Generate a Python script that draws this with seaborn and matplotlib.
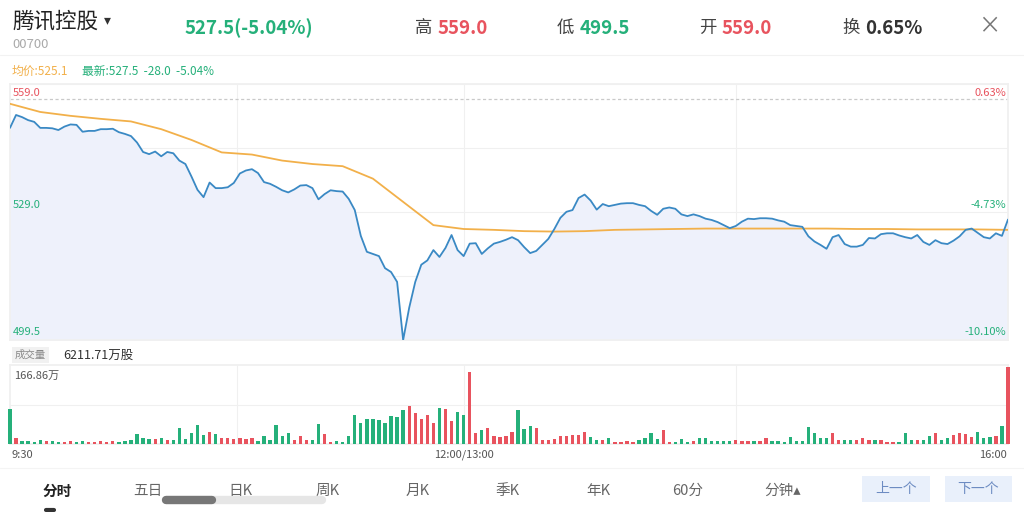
import numpy as np
import matplotlib
matplotlib.use("Agg")
import matplotlib.pyplot as plt
import matplotlib.patches as mpatches
from matplotlib.lines import Line2D
import seaborn as sns

# 腾讯控股 00700 intraday, one sample every 2 trading minutes (9:30 .. 16:00)
price = [
    548.8, 551.8, 551.3, 550.6, 550.2, 548.8, 548.8, 548.7, 548.3, 549.1,
    549.6, 549.5, 547.9, 548.1, 548.1, 548.5, 548.5, 548.6, 547.8, 547.4,
    546.9, 545.4, 543.2, 542.7, 543.3, 542.2, 543.2, 542.9, 541.2, 540.4,
    537.5, 534.4, 532.7, 536.1, 534.8, 534.8, 535.0, 536.0, 538.2, 538.9,
    539.2, 538.3, 536.2, 535.8, 535.1, 534.3, 533.8, 534.5, 535.4, 535.5,
    534.8, 532.2, 533.4, 534.3, 534.1, 534.0, 532.3, 529.7, 523.7, 520.0,
    519.5, 519.0, 516.2, 515.3, 513.0, 499.5, 507.0, 513.0, 517.0, 518.0,
    520.4, 518.8, 520.9, 523.9, 520.4, 519.0, 521.9, 522.0, 519.5, 520.8,
    521.9, 522.3, 522.8, 523.4, 522.7, 521.1, 519.7, 520.2, 521.6, 523.0,
    525.3, 527.9, 529.3, 529.7, 532.5, 533.3, 531.9, 529.8, 531.1, 530.6,
    530.9, 531.2, 531.3, 531.3, 530.9, 530.6, 529.5, 528.6, 530.0, 530.3,
    530.0, 528.7, 528.3, 528.7, 528.3, 527.7, 527.4, 526.9, 526.2, 525.5,
    526.0, 527.0, 527.7, 527.6, 527.8, 527.8, 527.7, 527.3, 527.0, 526.2,
    526.0, 525.8, 523.6, 522.4, 521.6, 520.7, 523.4, 523.9, 521.8, 521.2,
    521.2, 521.6, 523.2, 523.1, 524.1, 524.3, 524.3, 523.8, 523.4, 523.1,
    523.9, 522.3, 521.6, 522.7, 522.0, 521.8, 522.6, 523.6, 525.1, 525.4,
    524.4, 523.4, 523.1, 524.3, 523.7, 527.5,
]

# volume in 万股, same 2-minute samples
volume = [
    75, 14, 7, 6, 5, 9, 7, 6, 5, 5,
    6, 5, 6, 5, 5, 6, 5, 6, 5, 6,
    8, 21, 12, 10, 10, 14, 8, 8, 34, 10,
    24, 42, 19, 26, 21, 12, 12, 11, 12, 10,
    14, 6, 17, 8, 41, 17, 23, 8, 17, 8,
    9, 43, 22, 5, 6, 5, 17, 63, 45, 55,
    55, 52, 46, 60, 58, 74, 83, 66, 53, 62,
    45, 78, 75, 49, 69, 62, 156, 24, 31, 35,
    17, 15, 17, 26, 73, 33, 39, 34, 8, 9,
    10, 17, 18, 19, 19, 26, 15, 9, 9, 14,
    5, 5, 6, 5, 9, 14, 24, 11, 31, 5,
    5, 11, 5, 6, 14, 14, 7, 7, 6, 7,
    8, 6, 6, 6, 6, 14, 6, 6, 5, 15,
    6, 6, 37, 24, 14, 13, 24, 8, 8, 8,
    9, 14, 9, 9, 9, 5, 5, 5, 24, 9,
    9, 9, 17, 24, 8, 14, 19, 24, 22, 15,
    26, 14, 15, 17, 39, 166.86,
]

# average price line, one value every 10 trading minutes
avg_minutes = list(range(0, 331, 10))
avg_price = [
    554.4, 552.5, 551.6, 550.9, 550.3, 548.5, 546.0, 543.1, 542.6, 541.2,
    540.4, 539.9, 537.0, 531.6, 526.2, 525.3, 525.1, 524.8, 524.7, 524.8,
    525.1, 525.2, 525.3, 525.4, 525.4, 525.4, 525.4, 525.4, 525.3, 525.3,
    525.2, 525.2, 525.2, 525.1,
]

prev_close = 555.5
high, low, open_px, last = 559.0, 499.5, 559.0, 527.5
turnover = '0.65%'
total_volume = '6211.71万股'
max_volume_label = '166.86万'
left_labels = ['559.0', '529.0', '499.5']
right_labels = ['0.63%', '-4.73%', '-10.10%']
time_labels = ['9:30', '12:00/13:00', '16:00']
tabs = ['分时', '五日', '日K', '周K', '月K', '季K', '年K', '60分', '分钟▴']

RED = '#e8535e'
GREEN = '#25b07a'
BLUE = '#3a89c4'
ORANGE = '#f2b04a'
FILL = '#eef1fb'
GRID = '#f0f0f0'

sns.set_theme(style="white")
plt.rcParams['font.family'] = ['Noto Sans CJK SC', 'DejaVu Sans']

W, H = 1024, 512
fig = plt.figure(figsize=(W / 100, H / 100), dpi=100)
fig.patch.set_facecolor('white')


def box(l, t, r, b):
    return [l / W, 1 - b / H, (r - l) / W, (b - t) / H]


def txt(px, py, s, **kw):
    kw.setdefault('va', 'center')
    fig.text(px / W, 1 - py / H, s, **kw)


def hline(x0, x1, py, color=GRID, lw=0.8):
    fig.add_artist(Line2D([x0 / W, x1 / W], [1 - py / H] * 2, color=color, lw=lw))


minutes = np.arange(0, 331, 2)
price_arr = np.array(price)
up = np.diff(price_arr, prepend=prev_close) >= 0
bar_colors = [RED if u else GREEN for u in up]

# ---- price panel
ax = fig.add_axes(box(10, 84, 1008, 340))
ax.set_xlim(0, 330)
ax.set_ylim(low, high)
for y in np.linspace(low, high, 5):
    ax.axhline(y, color=GRID, lw=0.8, zorder=0)
for m in [75, 150, 240]:
    ax.axvline(m, color=GRID, lw=0.8, zorder=0)
ax.fill_between(minutes, price_arr, low, color=FILL, lw=0, zorder=1)
ax.axhline(prev_close, color='#c9c9c9', lw=0.9, ls=(0, (2.5, 2)), zorder=2)
sns.lineplot(x=avg_minutes, y=avg_price, ax=ax, color=ORANGE, lw=1.3, zorder=3)
sns.lineplot(x=minutes, y=price, ax=ax, color=BLUE, lw=1.3, zorder=4)
ax.set_xticks([]); ax.set_yticks([])
ax.set_xlabel(''); ax.set_ylabel('')
for sp in ax.spines.values():
    sp.set_color(GRID)

# ---- volume panel
axv = fig.add_axes(box(10, 365, 1008, 444))
axv.set_xlim(0, 330)
axv.set_ylim(0, 170.5)
axv.axhline(170.5 / 2, color=GRID, lw=0.8, zorder=0)
for m in [75, 150, 240]:
    axv.axvline(m, color=GRID, lw=0.8, zorder=0)
axv.bar(minutes, volume, width=1.1, color=bar_colors, lw=0, zorder=3, clip_on=False)
axv.set_xticks([]); axv.set_yticks([])
for sp in axv.spines.values():
    sp.set_color(GRID)
    sp.set_zorder(1)

# ---- header
txt(12, 22, '腾讯控股', fontsize=15.5, color='#222')
txt(104, 20, '▾', fontsize=10, color='#333')
txt(12, 44, '00700', fontsize=9.5, color='#aaaaaa')
chg_pct = (last / prev_close - 1) * 100
txt(185, 28, f'{last:.1f}({chg_pct:.2f}%)', fontsize=13.5, color=GREEN, weight='bold')
for lab, val, col, x0 in [('高', f'{high:.1f}', RED, 415), ('低', f'{low:.1f}', GREEN, 557),
                          ('开', f'{open_px:.1f}', RED, 699), ('换', turnover, '#333', 842)]:
    txt(x0, 28, lab, fontsize=12.5, color='#444')
    txt(x0 + 23, 28, val, fontsize=13.5, color=col, weight='bold')
txt(989, 27, '×', fontsize=16, color='#777', ha='center')
hline(0, W, 55, color='#f2f2f2')

txt(12, 71, f'均价:{avg_price[-1]:.1f}', fontsize=8.5, color=ORANGE)
txt(82, 71, f'最新:{last:.1f}  {last - prev_close:.1f}  {chg_pct:.2f}%', fontsize=8.5, color=GREEN)

# axis labels inside the price panel
for lab, py, col in zip(left_labels, [93, 205, 332], [RED, GREEN, GREEN]):
    txt(13, py, lab, fontsize=8, color=col)
for lab, py, col in zip(right_labels, [93, 205, 332], [RED, GREEN, GREEN]):
    txt(1006, py, lab, fontsize=8, color=col, ha='right')

# volume header and labels
txt(15, 355, '成交量', fontsize=7.5, color='#888',
    bbox=dict(boxstyle='square,pad=0.25', fc='#f1f1f1', ec='none'))
txt(63, 355, total_volume, fontsize=9, color='#333')
txt(14, 376, max_volume_label, fontsize=8, color='#555')
txt(12, 455, time_labels[0], fontsize=8, color='#555')
txt(464, 455, time_labels[1], fontsize=8, color='#555', ha='center')
txt(1007, 455, time_labels[2], fontsize=8, color='#555', ha='right')
hline(0, W, 468, color='#f4f4f4')

# ---- bottom tabs
for lab, cx in zip(tabs, [57, 148, 240, 328, 418, 508, 598, 688, 783]):
    if lab == '分时':
        txt(cx, 491, lab, fontsize=10.5, color='#222', ha='center', weight='bold')
    else:
        txt(cx, 491, lab, fontsize=10.5, color='#666', ha='center')
for lab, x0, x1 in [('上一个', 862, 930), ('下一个', 945, 1012)]:
    fig.add_artist(mpatches.Rectangle((x0 / W, 1 - 502 / H), (x1 - x0) / W, 26 / H,
                                      transform=fig.transFigure, fc='#e9f0fb', ec='none'))
    txt((x0 + x1) / 2, 489, lab, fontsize=10, color='#6d8cc2', ha='center')

fig.add_artist(Line2D([166 / W, 322 / W], [1 - 500 / H] * 2, lw=6, color='#e6e6e6',
                      solid_capstyle='round'))
fig.add_artist(Line2D([166 / W, 212 / W], [1 - 500 / H] * 2, lw=6, color='#777',
                      solid_capstyle='round'))
fig.add_artist(Line2D([46 / W, 54 / W], [1 - 510 / H] * 2, lw=3, color='#333'))

fig.savefig('out.png', dpi=100, facecolor='white')
